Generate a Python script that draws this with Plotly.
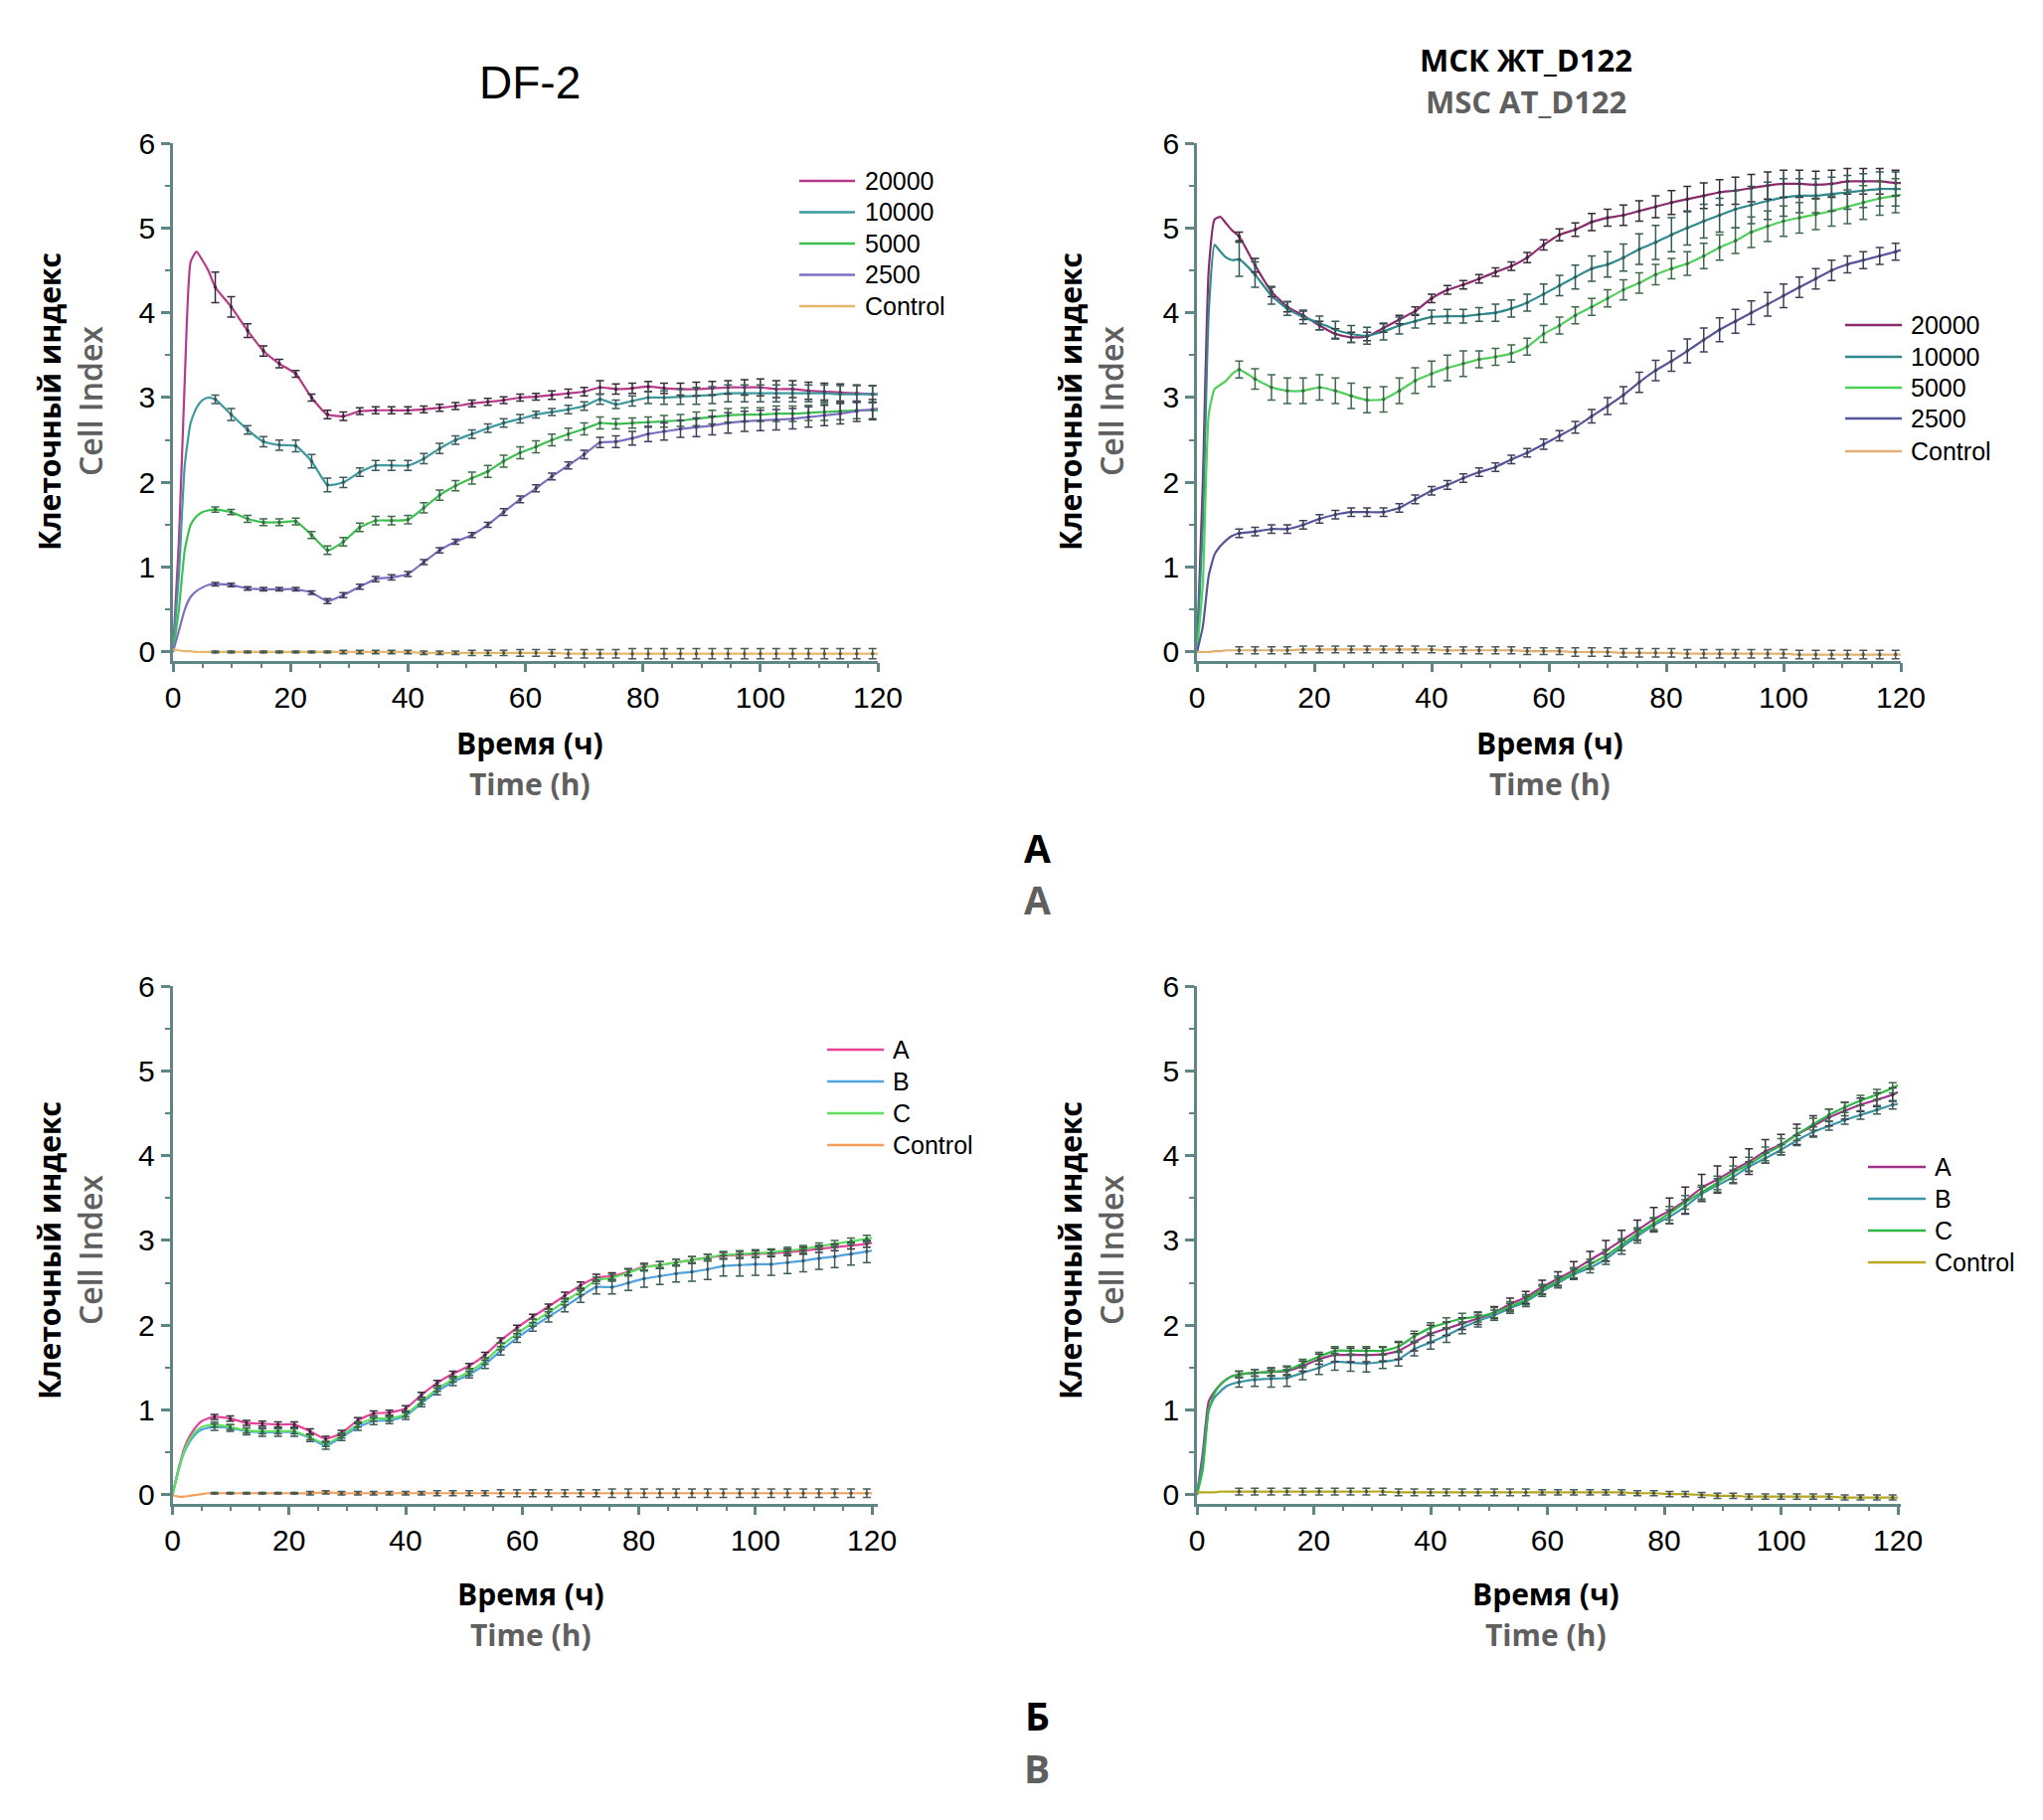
import plotly.graph_objects as go

W, H = 2055, 1831

# ---------------- time grid (h) ----------------
T = [0, 1, 2, 3, 4, 5, 6,
     7.2, 9.9, 12.7, 15.4, 18.1, 20.9, 23.6, 26.3, 29.0, 31.8, 34.5, 37.2, 40.0, 42.7,
     45.4, 48.1, 50.9, 53.6, 56.3, 59.1, 61.8, 64.5, 67.3, 70.0, 72.7, 75.4, 78.2, 80.9,
     83.6, 86.4, 89.1, 91.8, 94.5, 97.3, 100.0, 102.7, 105.5, 108.2, 110.9, 113.6, 116.4, 119.1,
     120]
ERR_FIRST, ERR_LAST = 7, 49   # slice of T that carries error bars

# ---------------- DF-2 (top left) ----------------
tl_names = ["20000", "10000", "5000", "2500", "Control"]
tl_20000 = [0, 1.3, 3.2, 4.6, 4.72, 4.62, 4.5,
            4.3, 4.07, 3.79, 3.55, 3.4, 3.28, 3.0, 2.8, 2.78, 2.84, 2.85, 2.85, 2.85, 2.86, 2.88,
            2.9, 2.93, 2.95, 2.97, 3.0, 3.01, 3.03, 3.05, 3.07, 3.12, 3.1, 3.11, 3.13, 3.11, 3.1,
            3.1, 3.11, 3.12, 3.12, 3.12, 3.1, 3.1, 3.08, 3.07, 3.06, 3.05, 3.04, 3.04]
tl_20000_err = [0.18, 0.12, 0.08, 0.06, 0.05, 0.04, 0.04, 0.05, 0.05, 0.04, 0.04, 0.04, 0.04, 0.04,
                0.04, 0.04, 0.04, 0.04, 0.04, 0.04, 0.04, 0.05, 0.05, 0.05, 0.08, 0.06, 0.06, 0.06,
                0.06, 0.07, 0.08, 0.08, 0.08, 0.09, 0.1, 0.1, 0.1, 0.1, 0.1, 0.1, 0.1, 0.1]
tl_10000 = [0, 0.9, 2.2, 2.7, 2.88, 2.97, 3.0,
            2.98, 2.8, 2.62, 2.48, 2.44, 2.43, 2.25, 1.97, 2.0, 2.12, 2.2, 2.2, 2.2, 2.28, 2.4,
            2.5, 2.57, 2.64, 2.7, 2.75, 2.8, 2.83, 2.86, 2.9, 2.98, 2.92, 2.96, 3.0, 3.0, 3.01,
            3.02, 3.03, 3.05, 3.05, 3.05, 3.05, 3.05, 3.05, 3.05, 3.04, 3.04, 3.04, 3.04]
tl_10000_err = [0.05, 0.07, 0.05, 0.06, 0.06, 0.07, 0.08, 0.08, 0.06, 0.05, 0.06, 0.06, 0.06, 0.06,
                0.06, 0.05, 0.05, 0.05, 0.05, 0.05, 0.04, 0.04, 0.05, 0.05, 0.06, 0.05, 0.06, 0.07,
                0.08, 0.09, 0.1, 0.1, 0.1, 0.1, 0.1, 0.1, 0.1, 0.1, 0.1, 0.1, 0.1, 0.1]
tl_5000 = [0, 0.5, 1.2, 1.5, 1.6, 1.65, 1.67,
           1.68, 1.65, 1.57, 1.53, 1.53, 1.54, 1.38, 1.2, 1.3, 1.47, 1.55, 1.55, 1.56, 1.7, 1.85,
           1.96, 2.05, 2.13, 2.25, 2.35, 2.42, 2.5, 2.57, 2.63, 2.7, 2.69, 2.7, 2.71, 2.72, 2.73,
           2.75, 2.77, 2.79, 2.8, 2.8, 2.81, 2.81, 2.82, 2.83, 2.84, 2.85, 2.85, 2.85]
tl_5000_err = [0.03, 0.03, 0.04, 0.04, 0.04, 0.04, 0.04, 0.05, 0.05, 0.05, 0.05, 0.05, 0.05, 0.06,
               0.06, 0.06, 0.07, 0.07, 0.07, 0.07, 0.07, 0.07, 0.07, 0.07, 0.07, 0.06, 0.06, 0.06,
               0.07, 0.07, 0.08, 0.08, 0.08, 0.08, 0.08, 0.09, 0.09, 0.09, 0.1, 0.1, 0.1, 0.1]
tl_2500 = [0, 0.25, 0.5, 0.65, 0.72, 0.76, 0.79,
           0.8, 0.79, 0.75, 0.74, 0.74, 0.74, 0.7, 0.6, 0.67, 0.77, 0.86, 0.88, 0.92, 1.06, 1.2,
           1.3, 1.38, 1.5, 1.65, 1.8, 1.93, 2.07, 2.2, 2.33, 2.47, 2.48, 2.52, 2.57, 2.6, 2.63,
           2.65, 2.67, 2.7, 2.72, 2.73, 2.74, 2.75, 2.77, 2.79, 2.81, 2.84, 2.86, 2.87]
tl_2500_err = [0.02, 0.02, 0.02, 0.02, 0.02, 0.02, 0.02, 0.03, 0.03, 0.03, 0.03, 0.03, 0.03, 0.03,
               0.03, 0.03, 0.03, 0.03, 0.04, 0.04, 0.04, 0.04, 0.04, 0.05, 0.06, 0.07, 0.08, 0.09,
               0.1, 0.1, 0.11, 0.11, 0.12, 0.12, 0.12, 0.12, 0.12, 0.12, 0.12, 0.12, 0.12, 0.12]
tl_ctrl = [0.03, 0.02, 0.01, 0.01, 0.0, 0.0, 0.0,
           0.0, 0.0, 0.0, 0.0, 0.0, 0.0, 0.0, 0.0, 0.0, 0.0, 0.0, 0.0, 0.0, -0.01, -0.01,
           -0.01, -0.01, -0.01, -0.01, -0.01, -0.01, -0.01, -0.02, -0.02, -0.02, -0.02, -0.02, -0.02, -0.02, -0.02,
           -0.02, -0.02, -0.02, -0.02, -0.02, -0.02, -0.02, -0.02, -0.02, -0.02, -0.02, -0.02, -0.02]
tl_ctrl_err = [0.01, 0.01, 0.01, 0.01, 0.01, 0.01, 0.01, 0.01, 0.02, 0.02, 0.02, 0.02, 0.02, 0.02,
               0.02, 0.02, 0.03, 0.03, 0.03, 0.04, 0.04, 0.04, 0.05, 0.05, 0.05, 0.05, 0.06, 0.06,
               0.06, 0.06, 0.06, 0.06, 0.06, 0.06, 0.06, 0.06, 0.06, 0.06, 0.06, 0.06, 0.06, 0.06]

# ---------------- MSC AT_D122 (top right) ----------------
tr_names = ["20000", "10000", "5000", "2500", "Control"]
tr_20000 = [0, 2.0, 4.5, 5.1, 5.13, 5.05, 4.97,
            4.9, 4.56, 4.25, 4.07, 3.97, 3.85, 3.75, 3.71, 3.72, 3.82, 3.92, 4.02, 4.17, 4.27, 4.33,
            4.4, 4.48, 4.55, 4.65, 4.8, 4.92, 4.98, 5.07, 5.12, 5.15, 5.2, 5.25, 5.3, 5.34, 5.38,
            5.42, 5.44, 5.47, 5.5, 5.52, 5.52, 5.51, 5.52, 5.55, 5.55, 5.55, 5.53, 5.53]
tr_20000_err = [0.05, 0.08, 0.06, 0.06, 0.05, 0.05, 0.06, 0.06, 0.05, 0.05, 0.05, 0.05, 0.05, 0.05,
                0.05, 0.05, 0.05, 0.05, 0.06, 0.06, 0.07, 0.08, 0.1, 0.1, 0.12, 0.12, 0.13, 0.14,
                0.15, 0.15, 0.15, 0.16, 0.16, 0.16, 0.16, 0.16, 0.16, 0.16, 0.15, 0.15, 0.15, 0.15]
tr_10000 = [0, 1.5, 4.0, 4.8, 4.72, 4.65, 4.62,
            4.63, 4.45, 4.2, 4.05, 3.95, 3.88, 3.8, 3.75, 3.73, 3.78, 3.85, 3.9, 3.95, 3.96, 3.96,
            3.98, 4.0, 4.05, 4.12, 4.22, 4.32, 4.42, 4.52, 4.57, 4.65, 4.75, 4.83, 4.92, 5.0, 5.08,
            5.15, 5.22, 5.27, 5.32, 5.36, 5.38, 5.38, 5.4, 5.42, 5.44, 5.46, 5.46, 5.46]
tr_10000_err = [0.2, 0.15, 0.1, 0.08, 0.08, 0.08, 0.1, 0.1, 0.1, 0.1, 0.1, 0.08, 0.08, 0.08,
                0.08, 0.08, 0.1, 0.1, 0.1, 0.12, 0.12, 0.14, 0.15, 0.15, 0.16, 0.18, 0.2, 0.2,
                0.2, 0.2, 0.2, 0.22, 0.22, 0.22, 0.22, 0.2, 0.2, 0.2, 0.2, 0.2, 0.2, 0.2]
tr_5000 = [0, 0.8, 2.8, 3.1, 3.15, 3.2, 3.28,
           3.33, 3.22, 3.12, 3.08, 3.08, 3.12, 3.08, 3.02, 2.97, 2.98, 3.08, 3.2, 3.28, 3.35, 3.4,
           3.45, 3.48, 3.52, 3.6, 3.75, 3.85, 3.97, 4.07, 4.17, 4.27, 4.35, 4.45, 4.52, 4.58, 4.67,
           4.77, 4.85, 4.95, 5.02, 5.08, 5.12, 5.16, 5.2, 5.25, 5.3, 5.35, 5.38, 5.39]
tr_5000_err = [0.1, 0.12, 0.15, 0.15, 0.15, 0.15, 0.15, 0.15, 0.15, 0.15, 0.15, 0.15, 0.15, 0.15,
               0.15, 0.1, 0.1, 0.1, 0.1, 0.1, 0.1, 0.1, 0.1, 0.1, 0.12, 0.12, 0.12, 0.12,
               0.14, 0.15, 0.15, 0.15, 0.18, 0.18, 0.18, 0.18, 0.18, 0.18, 0.2, 0.2, 0.2, 0.2]
tr_2500 = [0, 0.3, 0.9, 1.15, 1.25, 1.32, 1.37,
           1.4, 1.42, 1.45, 1.45, 1.5, 1.57, 1.62, 1.65, 1.65, 1.65, 1.7, 1.8, 1.9, 1.97, 2.05,
           2.12, 2.18, 2.27, 2.35, 2.45, 2.55, 2.65, 2.78, 2.9, 3.03, 3.18, 3.32, 3.43, 3.55, 3.68,
           3.8, 3.9, 4.0, 4.1, 4.2, 4.3, 4.4, 4.5, 4.57, 4.62, 4.67, 4.72, 4.74]
tr_2500_err = [0.05, 0.05, 0.05, 0.05, 0.05, 0.05, 0.05, 0.05, 0.05, 0.05, 0.05, 0.05, 0.05, 0.05,
               0.05, 0.05, 0.05, 0.05, 0.05, 0.06, 0.06, 0.07, 0.08, 0.1, 0.1, 0.12, 0.12, 0.12,
               0.14, 0.14, 0.14, 0.14, 0.14, 0.14, 0.14, 0.12, 0.12, 0.12, 0.1, 0.1, 0.1, 0.1]
tr_ctrl = [0, 0, 0, 0.01, 0.01, 0.02, 0.02,
           0.02, 0.02, 0.02, 0.02, 0.03, 0.03, 0.03, 0.03, 0.03, 0.03, 0.03, 0.03, 0.03, 0.02, 0.02,
           0.02, 0.02, 0.02, 0.01, 0.01, 0.01, 0.0, 0.0, 0.0, -0.01, -0.01, -0.01, -0.01, -0.02, -0.02,
           -0.02, -0.02, -0.02, -0.02, -0.02, -0.03, -0.03, -0.03, -0.03, -0.03, -0.03, -0.03, -0.03]
tr_ctrl_err = [0.04, 0.04, 0.04, 0.04, 0.04, 0.04, 0.04, 0.04, 0.04, 0.04, 0.04, 0.04, 0.04, 0.04,
               0.04, 0.04, 0.04, 0.04, 0.04, 0.04, 0.04, 0.05, 0.05, 0.05, 0.05, 0.05, 0.05, 0.05,
               0.05, 0.05, 0.05, 0.05, 0.05, 0.05, 0.05, 0.05, 0.05, 0.05, 0.05, 0.05, 0.05, 0.05]

# ---------------- bottom left (A, B, C) ----------------
bl_names = ["A", "B", "C", "Control"]
bl_a = [0, 0.3, 0.55, 0.7, 0.8, 0.87, 0.9,
        0.92, 0.9, 0.85, 0.84, 0.83, 0.83, 0.75, 0.66, 0.73, 0.88, 0.96, 0.97, 1.02, 1.18, 1.32,
        1.43, 1.52, 1.65, 1.82, 1.97, 2.1, 2.22, 2.35, 2.47, 2.56, 2.58, 2.63, 2.69, 2.71, 2.74,
        2.77, 2.8, 2.82, 2.83, 2.84, 2.85, 2.86, 2.88, 2.9, 2.92, 2.94, 2.96, 2.97]
bl_a_err = [0.03, 0.03, 0.03, 0.03, 0.03, 0.03, 0.03, 0.03, 0.03, 0.03, 0.03, 0.03, 0.03, 0.03,
            0.03, 0.03, 0.03, 0.03, 0.03, 0.03, 0.03, 0.03, 0.04, 0.04, 0.04, 0.04, 0.04, 0.04,
            0.04, 0.04, 0.04, 0.04, 0.04, 0.04, 0.04, 0.04, 0.04, 0.04, 0.04, 0.04, 0.04, 0.04]
bl_b = [0, 0.28, 0.5, 0.63, 0.72, 0.77, 0.79,
        0.8, 0.79, 0.75, 0.74, 0.74, 0.74, 0.67, 0.58, 0.68, 0.8, 0.87, 0.88, 0.93, 1.08, 1.22,
        1.33, 1.42, 1.54, 1.7, 1.85, 1.98, 2.1, 2.22, 2.34, 2.45, 2.45, 2.5, 2.55, 2.58, 2.61,
        2.63, 2.66, 2.7, 2.71, 2.72, 2.72, 2.74, 2.76, 2.79, 2.81, 2.84, 2.87, 2.88]
bl_b_err = [0.04, 0.04, 0.04, 0.05, 0.05, 0.05, 0.04, 0.04, 0.04, 0.04, 0.04, 0.04, 0.04, 0.04,
            0.04, 0.04, 0.04, 0.05, 0.05, 0.05, 0.05, 0.06, 0.06, 0.07, 0.08, 0.08, 0.09, 0.1,
            0.1, 0.1, 0.11, 0.12, 0.12, 0.13, 0.13, 0.13, 0.13, 0.13, 0.13, 0.13, 0.13, 0.13]
bl_c = [0, 0.28, 0.52, 0.66, 0.75, 0.8, 0.82,
        0.83, 0.8, 0.76, 0.75, 0.75, 0.75, 0.68, 0.6, 0.7, 0.83, 0.9, 0.9, 0.95, 1.1, 1.25,
        1.36, 1.45, 1.58, 1.75, 1.9, 2.03, 2.15, 2.28, 2.4, 2.53, 2.56, 2.62, 2.68, 2.71, 2.74,
        2.77, 2.8, 2.83, 2.84, 2.85, 2.86, 2.88, 2.9, 2.93, 2.96, 2.99, 3.02, 3.03]
bl_c_err = [0.03, 0.03, 0.03, 0.03, 0.03, 0.03, 0.03, 0.03, 0.03, 0.03, 0.03, 0.03, 0.03, 0.03,
            0.03, 0.03, 0.04, 0.04, 0.04, 0.04, 0.04, 0.04, 0.04, 0.04, 0.04, 0.04, 0.04, 0.04,
            0.04, 0.04, 0.04, 0.04, 0.04, 0.04, 0.04, 0.04, 0.04, 0.04, 0.04, 0.04, 0.04, 0.04]
bl_ctrl = [0, -0.02, -0.02, -0.01, 0.0, 0.01, 0.02,
           0.02, 0.02, 0.02, 0.02, 0.02, 0.02, 0.02, 0.03, 0.02, 0.02, 0.02, 0.02, 0.02, 0.02, 0.02,
           0.02, 0.02, 0.02, 0.02, 0.02, 0.02, 0.02, 0.02, 0.02, 0.02, 0.02, 0.02, 0.02, 0.02, 0.02,
           0.02, 0.02, 0.02, 0.02, 0.02, 0.02, 0.02, 0.02, 0.02, 0.02, 0.02, 0.02, 0.02]
bl_ctrl_err = [0.01, 0.01, 0.01, 0.01, 0.01, 0.01, 0.02, 0.02, 0.02, 0.02, 0.02, 0.02, 0.02, 0.02,
               0.03, 0.03, 0.03, 0.03, 0.04, 0.04, 0.04, 0.04, 0.04, 0.04, 0.04, 0.05, 0.05, 0.05,
               0.05, 0.05, 0.05, 0.05, 0.05, 0.05, 0.05, 0.05, 0.05, 0.05, 0.05, 0.05, 0.05, 0.05]

# ---------------- bottom right (A, B, C) ----------------
br_names = ["A", "B", "C", "Control"]
br_a = [0, 0.5, 1.1, 1.22, 1.3, 1.36, 1.4,
        1.42, 1.44, 1.45, 1.46, 1.52, 1.6, 1.65, 1.65, 1.65, 1.66, 1.7, 1.8, 1.9, 1.96, 2.02,
        2.08, 2.15, 2.25, 2.33, 2.45, 2.55, 2.65, 2.77, 2.88, 3.0, 3.12, 3.25, 3.35, 3.47, 3.62,
        3.72, 3.83, 3.93, 4.05, 4.13, 4.25, 4.35, 4.45, 4.53, 4.6, 4.66, 4.72, 4.75]
br_a_err = [0.04, 0.04, 0.05, 0.05, 0.06, 0.06, 0.08, 0.08, 0.08, 0.08, 0.1, 0.1, 0.1, 0.08,
            0.07, 0.07, 0.07, 0.07, 0.07, 0.08, 0.08, 0.1, 0.1, 0.12, 0.12, 0.12, 0.14, 0.15,
            0.16, 0.16, 0.16, 0.15, 0.15, 0.14, 0.12, 0.12, 0.12, 0.1, 0.1, 0.08, 0.08, 0.08]
br_b = [0, 0.4, 1.0, 1.15, 1.22, 1.28, 1.31,
        1.33, 1.36, 1.37, 1.38, 1.44, 1.5, 1.57, 1.56, 1.55, 1.57, 1.6, 1.72, 1.8, 1.88, 1.97,
        2.05, 2.12, 2.2, 2.28, 2.4, 2.5, 2.6, 2.68, 2.78, 2.92, 3.05, 3.18, 3.28, 3.4, 3.55,
        3.65, 3.75, 3.87, 3.97, 4.07, 4.18, 4.28, 4.35, 4.42, 4.48, 4.54, 4.6, 4.61]
br_b_err = [0.06, 0.08, 0.1, 0.1, 0.08, 0.08, 0.1, 0.1, 0.1, 0.08, 0.08, 0.08, 0.08, 0.08,
            0.07, 0.07, 0.06, 0.06, 0.06, 0.06, 0.06, 0.06, 0.06, 0.06, 0.08, 0.08, 0.08, 0.08,
            0.08, 0.08, 0.08, 0.08, 0.06, 0.06, 0.06, 0.06, 0.06, 0.05, 0.05, 0.05, 0.05, 0.05]
br_c = [0, 0.3, 1.0, 1.2, 1.3, 1.36, 1.4,
        1.42, 1.44, 1.45, 1.47, 1.55, 1.63, 1.7, 1.7, 1.7, 1.7, 1.75, 1.87, 1.97, 2.03, 2.08,
        2.1, 2.15, 2.22, 2.3, 2.42, 2.52, 2.62, 2.72, 2.82, 2.95, 3.08, 3.2, 3.32, 3.45, 3.57,
        3.68, 3.8, 3.9, 4.02, 4.12, 4.25, 4.37, 4.48, 4.57, 4.65, 4.72, 4.8, 4.83]
br_c_err = [0.04, 0.04, 0.04, 0.05, 0.05, 0.05, 0.05, 0.05, 0.05, 0.05, 0.06, 0.06, 0.06, 0.06,
            0.06, 0.06, 0.06, 0.06, 0.06, 0.06, 0.06, 0.06, 0.06, 0.07, 0.07, 0.07, 0.07, 0.08,
            0.08, 0.08, 0.08, 0.08, 0.08, 0.08, 0.08, 0.07, 0.07, 0.07, 0.06, 0.06, 0.06, 0.06]
br_ctrl = [0.03, 0.03, 0.03, 0.03, 0.04, 0.04, 0.04,
           0.04, 0.04, 0.04, 0.04, 0.04, 0.04, 0.04, 0.04, 0.04, 0.04, 0.03, 0.03, 0.03, 0.03, 0.03,
           0.03, 0.03, 0.03, 0.03, 0.03, 0.03, 0.03, 0.03, 0.03, 0.03, 0.02, 0.02, 0.01, 0.01, 0.0,
           -0.01, -0.01, -0.02, -0.02, -0.02, -0.02, -0.02, -0.02, -0.03, -0.03, -0.03, -0.03, -0.03]
br_ctrl_err = [0.04, 0.04, 0.04, 0.04, 0.04, 0.04, 0.04, 0.04, 0.04, 0.04, 0.04, 0.04, 0.04, 0.04,
               0.04, 0.04, 0.04, 0.04, 0.04, 0.03, 0.03, 0.03, 0.03, 0.03, 0.03, 0.03, 0.03, 0.03,
               0.03, 0.03, 0.03, 0.03, 0.03, 0.03, 0.03, 0.03, 0.03, 0.03, 0.03, 0.03, 0.03, 0.03]

# ---------------- styling ----------------
AXIS = "#5f8585"
GRAY = "#5f5f5f"
TICKFONT = "Liberation Sans"
TXTFONT = "Open Sans"


def px(x):
    return x / W


def py(y):
    return 1 - y / H


panels = [
    dict(n=1, xd=(174, 883), yd=(144, 664.5), xr=[0, 120],
         series=[(tl_names[0], tl_20000, tl_20000_err, "#b8388a", "#3a2a3a"),
                 (tl_names[1], tl_10000, tl_10000_err, "#3c9aa0", "#3c5a5a"),
                 (tl_names[2], tl_5000, tl_5000_err, "#3cc050", "#3f6a4a"),
                 (tl_names[3], tl_2500, tl_2500_err, "#7e6fc4", "#3f3f5a"),
                 (tl_names[4], tl_ctrl, tl_ctrl_err, "#e8b868", "#4a5a50")],
         leg=(804, 860, 868, [182, 213.5, 245, 276.5, 308]),
         xt=(533, 747, 788), yt=(49, 90, 404)),
    dict(n=2, xd=(1204, 1912), yd=(144, 664.5), xr=[0, 120],
         series=[(tr_names[0], tr_20000, tr_20000_err, "#8c2a6e", "#3a2a3a"),
                 (tr_names[1], tr_10000, tr_10000_err, "#2f8a8e", "#355a5a"),
                 (tr_names[2], tr_5000, tr_5000_err, "#4fd05a", "#3f6a4a"),
                 (tr_names[3], tr_2500, tr_2500_err, "#55559a", "#3f3f5a"),
                 (tr_names[4], tr_ctrl, tr_ctrl_err, "#e2b070", "#4a5a50")],
         leg=(1856, 1913, 1920, [327, 359, 390, 421, 454]),
         xt=(1559, 747, 788), yt=(1076, 1117, 404)),
    dict(n=3, xd=(173.5, 883), yd=(992, 1512.5), xr=[0, 121],
         series=[(bl_names[0], bl_a, bl_a_err, "#e8429a", "#3a2a3a"),
                 (bl_names[1], bl_b, bl_b_err, "#4fa3e0", "#3c5a5a"),
                 (bl_names[2], bl_c, bl_c_err, "#5ee05e", "#3f6a4a"),
                 (bl_names[3], bl_ctrl, bl_ctrl_err, "#f5a05a", "#4a5a50")],
         leg=(832, 889, 896, [1056, 1088, 1120, 1152]),
         xt=(534, 1603, 1644), yt=(49, 90, 1258)),
    dict(n=4, xd=(1204, 1912), yd=(992, 1512.5), xr=[0, 120.5],
         series=[(br_names[0], br_a, br_a_err, "#a2338a", "#3a2a3a"),
                 (br_names[1], br_b, br_b_err, "#3a96a6", "#3c5a5a"),
                 (br_names[2], br_c, br_c_err, "#2eb845", "#3f6a4a"),
                 (br_names[3], br_ctrl, br_ctrl_err, "#b8a820", "#4a5a50")],
         leg=(1879, 1937, 1944, [1174, 1206, 1238, 1270]),
         xt=(1555, 1603, 1644), yt=(1076, 1117, 1258)),
]

fig = go.Figure()
shapes = []
annotations = []
layout = dict(width=W, height=H, autosize=False, margin=dict(l=0, r=0, t=0, b=0, pad=0, autoexpand=False),
              paper_bgcolor="white", plot_bgcolor="white", showlegend=False, template="none")

for p in panels:
    n = p["n"]
    xa = "x" if n == 1 else f"x{n}"
    ya = "y" if n == 1 else f"y{n}"
    xkey = "xaxis" if n == 1 else f"xaxis{n}"
    ykey = "yaxis" if n == 1 else f"yaxis{n}"
    layout[xkey] = dict(domain=[px(p["xd"][0]), px(p["xd"][1])], range=p["xr"], anchor=ya,
                        automargin=False,
                        showline=True, linecolor=AXIS, linewidth=2.5, showgrid=False, zeroline=False,
                        ticks="outside", ticklen=9, tickwidth=2.5, tickcolor=AXIS,
                        tickmode="linear", tick0=0, dtick=20,
                        minor=dict(ticks="outside", ticklen=5, tickwidth=2, tickcolor=AXIS, dtick=5),
                        tickfont=dict(family=TICKFONT, size=30, color="black"))
    layout[ykey] = dict(domain=[py(p["yd"][1]), py(p["yd"][0])], range=[-0.1, 6], anchor=xa,
                        automargin=False,
                        showline=True, linecolor=AXIS, linewidth=2.5, showgrid=False, zeroline=False,
                        ticks="outside", ticklen=9, tickwidth=2.5, tickcolor=AXIS,
                        tickmode="linear", tick0=0, dtick=1,
                        minor=dict(ticks="outside", ticklen=5, tickwidth=2, tickcolor=AXIS, dtick=0.5),
                        tickfont=dict(family=TICKFONT, size=30, color="black"))

    for name, vals, err, col, ecol in p["series"]:
        fig.add_trace(go.Scatter(x=T, y=vals, mode="lines", name=name, xaxis=xa, yaxis=ya,
                                 line=dict(color=col, width=2.2, shape="spline", smoothing=0.5),
                                 hoverinfo="skip"))
    for name, vals, err, col, ecol in p["series"]:
        fig.add_trace(go.Scatter(x=T[ERR_FIRST:ERR_LAST], y=vals[ERR_FIRST:ERR_LAST], mode="markers",
                                 xaxis=xa, yaxis=ya, name=name,
                                 marker=dict(color=ecol, size=3.5),
                                 error_y=dict(type="data", array=err, color=ecol, thickness=1.5, width=4),
                                 hoverinfo="skip"))

    # legend (drawn manually)
    lx0, lx1, tx, rows = p["leg"]
    for (name, vals, err, col, ecol), ry in zip(p["series"], rows):
        shapes.append(dict(type="line", xref="paper", yref="paper",
                           x0=px(lx0), x1=px(lx1), y0=py(ry), y1=py(ry),
                           line=dict(color=col, width=2.5)))
        annotations.append(dict(xref="paper", yref="paper", x=px(tx), y=py(ry), text=name,
                                showarrow=False, xanchor="left", yanchor="middle",
                                font=dict(family=TICKFONT, size=25, color="black")))

    # axis titles
    cx, y1, y2 = p["xt"]
    annotations.append(dict(xref="paper", yref="paper", x=px(cx), y=py(y1), text="<b>Время (ч)</b>",
                            showarrow=False, xanchor="center", yanchor="middle",
                            font=dict(family=TXTFONT, size=30, color="black")))
    annotations.append(dict(xref="paper", yref="paper", x=px(cx), y=py(y2), text="<b>Time (h)</b>",
                            showarrow=False, xanchor="center", yanchor="middle",
                            font=dict(family=TXTFONT, size=30, color=GRAY)))
    x1, x2, cy = p["yt"]
    annotations.append(dict(xref="paper", yref="paper", x=px(x1), y=py(cy), text="<b>Клеточный индекс</b>",
                            showarrow=False, xanchor="center", yanchor="middle", textangle=-90,
                            font=dict(family=TXTFONT, size=30, color="black")))
    annotations.append(dict(xref="paper", yref="paper", x=px(x2), y=py(cy), text="Cell Index",
                            showarrow=False, xanchor="center", yanchor="middle", textangle=-90,
                            font=dict(family=TXTFONT, size=32, color=GRAY, weight=600)))

# titles
annotations.append(dict(xref="paper", yref="paper", x=px(533), y=py(83), text="DF-2", showarrow=False,
                        xanchor="center", yanchor="middle",
                        font=dict(family=TICKFONT, size=46, color="black")))
annotations.append(dict(xref="paper", yref="paper", x=px(1535), y=py(60), text="<b>МСК ЖТ_D122</b>",
                        showarrow=False, xanchor="center", yanchor="middle",
                        font=dict(family=TXTFONT, size=31, color="black")))
annotations.append(dict(xref="paper", yref="paper", x=px(1535), y=py(102), text="<b>MSC AT_D122</b>",
                        showarrow=False, xanchor="center", yanchor="middle",
                        font=dict(family=TXTFONT, size=31, color=GRAY)))

# panel letters
for txt, yy, col in [("А", 853, "black"), ("A", 905, GRAY), ("Б", 1725, "black"), ("B", 1778, GRAY)]:
    annotations.append(dict(xref="paper", yref="paper", x=px(1043), y=py(yy), text=f"<b>{txt}</b>",
                            showarrow=False, xanchor="center", yanchor="middle",
                            font=dict(family=TXTFONT, size=39, color=col)))

layout["shapes"] = shapes
layout["annotations"] = annotations
fig.update_layout(**layout)
fig.write_html("out.html", config={"displayModeBar": False},
               post_script="document.body.style.margin='0';document.body.style.overflow='hidden';")
